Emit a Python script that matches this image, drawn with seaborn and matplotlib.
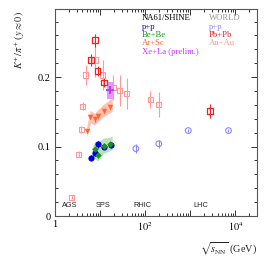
import numpy as np
import pandas as pd
import matplotlib
matplotlib.use("Agg")
import matplotlib.pyplot as plt
import seaborn as sns
from matplotlib.ticker import MultipleLocator, LogLocator, FixedLocator, FixedFormatter, NullFormatter

# ---------------- data ----------------
# NA61/SHINE
pp_na61_x = [6.3, 7.7, 8.8, 12.3, 17.3]
pp_na61_y = [0.084, 0.090, 0.103, 0.100, 0.102]
pp_na61_e = [0.004, 0.004, 0.005, 0.004, 0.004]

bebe_x = [7.6, 8.8, 11.9, 16.8]
bebe_y = [0.096, 0.088, 0.101, 0.103]
bebe_e = [0.004, 0.004, 0.004, 0.004]
bebe_band_x = [6.6, 7.6, 8.8, 11.9, 16.8, 18.5]
bebe_band_lo = [0.080, 0.083, 0.079, 0.090, 0.094, 0.096]
bebe_band_hi = [0.098, 0.108, 0.107, 0.112, 0.114, 0.115]

arsc_x = [5.1, 6.1, 7.6, 8.8, 11.9, 16.8]
arsc_y = [0.122, 0.143, 0.139, 0.144, 0.151, 0.157]
arsc_e = [0.003, 0.003, 0.003, 0.003, 0.003, 0.003]
arsc_band_x = [5.1, 6.1, 7.6, 8.8, 11.9, 16.8, 18.5]
arsc_band_lo = [0.113, 0.134, 0.131, 0.136, 0.143, 0.149, 0.151]
arsc_band_hi = [0.131, 0.152, 0.148, 0.153, 0.161, 0.168, 0.170]

xela_x = [16.5]
xela_y = [0.181]
xela_box_x = [13.9, 19.9]
xela_box_lo = 0.1685
xela_box_hi = 0.193

# WORLD
pp_world_x = [62.0, 200.0, 900.0, 7000.0]
pp_world_y = [0.097, 0.104, 0.123, 0.123]
pp_world_e = [0.006, 0.006, 0.002, 0.002]

pbpb_x = [6.3, 7.6, 8.8, 12.3, 2760.0]
pbpb_y = [0.2245, 0.253, 0.209, 0.192, 0.151]
pbpb_e = [0.008, 0.009, 0.007, 0.007, 0.010]

auau_x = [2.36, 3.33, 3.82, 4.15, 4.76, 7.7, 11.5, 19.6, 27.0, 39.0, 130.0, 200.0]
auau_y = [0.027, 0.089, 0.125, 0.158, 0.203, 0.2245, 0.203, 0.185, 0.181, 0.1765, 0.168, 0.161]
auau_e = [0.003, 0.004, 0.005, 0.006, 0.015, 0.025, 0.022, 0.018, 0.022, 0.022, 0.012, 0.018]

facility_labels = ["AGS", "SPS", "RHIC", "LHC"]
facility_x = [2.15, 11.4, 88.0, 1720.0]

# ---------------- style ----------------
sns.set_style("ticks")
plt.rcParams["font.family"] = ["Liberation Serif", "DejaVu Serif"]
plt.rcParams["mathtext.fontset"] = "stix"

c_pp = "#0000dd"
c_bebe = "#119911"
c_arsc = "#ff6633"
c_arsc_band = "#ff7755"
c_xela = "#cc33ff"
c_ppw = "#8888ff"
c_pbpb = "#ee2222"
c_auau = "#ff9999"

fig = plt.figure(figsize=(2.78, 2.70), dpi=100)
ax = fig.add_axes([55 / 278, 1 - 216 / 270, 202 / 278, 207 / 270])
ax.set_xscale("log")

def errs(x, y, e, col, lw=0.8):
    ax.errorbar(x, y, yerr=e, fmt="none", ecolor=col, elinewidth=lw, capsize=0, zorder=2)

# bands
ax.fill_between(arsc_band_x, arsc_band_lo, arsc_band_hi, color=c_arsc_band, alpha=0.45, lw=0, zorder=1)
ax.fill_between(bebe_band_x, bebe_band_lo, bebe_band_hi, color=c_bebe, alpha=0.28, lw=0, zorder=1)
ax.fill_between(xela_box_x, xela_box_lo, xela_box_hi, color=c_xela, alpha=0.5, lw=0, zorder=1)

# WORLD data (open markers)
errs(auau_x, auau_y, auau_e, c_auau)
sns.scatterplot(x=auau_x, y=auau_y, marker="s", s=14, facecolor="none",
                edgecolor=c_auau, linewidth=0.8, ax=ax, zorder=3)
errs(pbpb_x, pbpb_y, pbpb_e, c_pbpb)
sns.scatterplot(x=pbpb_x, y=pbpb_y, marker="s", s=16, facecolor="none",
                edgecolor=c_pbpb, linewidth=0.9, ax=ax, zorder=3)
errs(pp_world_x, pp_world_y, pp_world_e, c_ppw)
sns.scatterplot(x=pp_world_x, y=pp_world_y, marker="o", s=17, facecolor="none",
                edgecolor=c_ppw, linewidth=0.8, ax=ax, zorder=3)

# NA61 data (filled markers)
errs(arsc_x, arsc_y, arsc_e, c_arsc)
sns.scatterplot(x=arsc_x, y=arsc_y, marker="v", s=16, color=c_arsc,
                edgecolor=c_arsc, linewidth=0, ax=ax, zorder=4)
errs(pp_na61_x, pp_na61_y, pp_na61_e, c_pp)
sns.scatterplot(x=pp_na61_x, y=pp_na61_y, marker="o", s=20, color=c_pp,
                edgecolor=c_pp, linewidth=0, ax=ax, zorder=4)
errs(bebe_x, bebe_y, bebe_e, c_bebe)
sns.scatterplot(x=bebe_x, y=bebe_y, marker="D", s=11, color=c_bebe,
                edgecolor=c_bebe, linewidth=0, ax=ax, zorder=5)
sns.scatterplot(x=xela_x, y=xela_y, marker="P", s=32, color=c_xela,
                edgecolor=c_xela, linewidth=0, ax=ax, zorder=5)

# axes
ax.set_xlim(1, 3.0e4)
ax.set_ylim(0, 0.298)
ax.xaxis.set_major_locator(FixedLocator([1, 10, 100, 1000, 10000]))
ax.xaxis.set_major_formatter(FixedFormatter(["1", "", "$10^{2}$", "", "$10^{4}$"]))
ax.xaxis.set_minor_locator(LogLocator(base=10, subs=np.arange(2, 10), numticks=20))
ax.xaxis.set_minor_formatter(NullFormatter())
ax.yaxis.set_major_locator(FixedLocator([0, 0.1, 0.2]))
ax.yaxis.set_major_formatter(FixedFormatter(["0", "0.1", "0.2"]))
ax.yaxis.set_minor_locator(MultipleLocator(0.02))
ax.tick_params(which="both", direction="in", top=True, right=True, colors="#333333",
               labelcolor="black", labelsize=7.4, width=0.7)
ax.tick_params(which="major", length=4.5, pad=3)
ax.tick_params(which="minor", length=2.3)
for sp in ax.spines.values():
    sp.set_visible(True)
    sp.set_color("#555555")
    sp.set_linewidth(0.8)

fig.text(20 / 278, 1 - 40 / 270, r"$K^{+}/\pi^{+}\ (y \approx 0)$", rotation=90,
         ha="center", va="center", fontsize=7.4)
fig.text(257 / 278, 1 - 249 / 270, r"$\sqrt{s_{\rm NN}}$ (GeV)", ha="right",
         va="center", fontsize=7.4)

# facility labels
for lab, xv in zip(facility_labels, facility_x):
    ax.text(xv, 0.0145, lab, ha="center", va="center", fontsize=5.3,
            family="Liberation Sans", color="#222222")

# legend texts
x1 = (142 - 55) / 202
x2 = (209 - 55) / 202
y0 = (216 - 18.5) / 207
dy = 8.3 / 207
ax.text(x1, y0, "NA61/SHINE", transform=ax.transAxes, fontsize=6.2, color="black", va="center")
ax.text(x1, y0 - dy, "p+p", transform=ax.transAxes, fontsize=6.2, color=c_pp, va="center")
ax.text(x1, y0 - 2 * dy, "Be+Be", transform=ax.transAxes, fontsize=6.2, color=c_bebe, va="center")
ax.text(x1, y0 - 3 * dy, "Ar+Sc", transform=ax.transAxes, fontsize=6.2, color=c_arsc, va="center")
ax.text(x1, y0 - 4 * dy, "Xe+La (prelim.)", transform=ax.transAxes, fontsize=6.2, color=c_xela, va="center")
ax.text(x2, y0, "WORLD", transform=ax.transAxes, fontsize=6.2, color="#999999", va="center")
ax.text(x2, y0 - dy, "p+p", transform=ax.transAxes, fontsize=6.2, color=c_ppw, va="center")
ax.text(x2, y0 - 2 * dy, "Pb+Pb", transform=ax.transAxes, fontsize=6.2, color=c_pbpb, va="center")
ax.text(x2, y0 - 3 * dy, "Au+Au", transform=ax.transAxes, fontsize=6.2, color=c_auau, va="center")

fig.savefig("out.png", dpi=100)
